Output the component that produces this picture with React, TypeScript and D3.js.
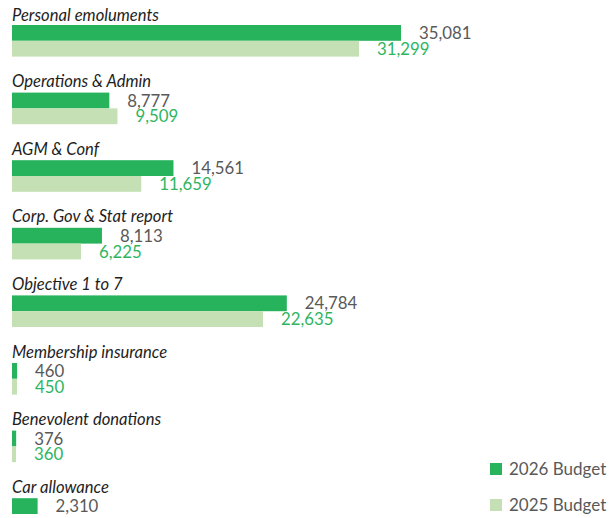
import React from "react";
import * as d3 from "d3";

const categories = [
  "Personal emoluments",
  "Operations & Admin",
  "AGM & Conf",
  "Corp. Gov & Stat report",
  "Objective 1 to 7",
  "Membership insurance",
  "Benevolent donations",
  "Car allowance",
];
const budget2026: (number | null)[] = [35081, 8777, 14561, 8113, 24784, 460, 376, 2310];
const budget2025: (number | null)[] = [31299, 9509, 11659, 6225, 22635, 450, 360, null];
const seriesNames = ["2026 Budget", "2025 Budget"];

const W = 609;
const H = 518;
const C2026 = "#27b35c";
const C2025 = "#c5e0b4";
const FONT = "Lato, 'Source Sans Pro', sans-serif";

export default function App() {
  const x = d3.scaleLinear().domain([0, 35081]).range([12, 401]);
  const y = d3
    .scaleBand<string>()
    .domain(categories)
    .range([25, 25 + 67.6 * categories.length])
    .paddingInner(0)
    .paddingOuter(0);
  const barH = 15.8;
  const fmt = d3.format(",");

  return (
    <svg
      width={W}
      height={H}
      style={{ position: "absolute", left: 0, top: 0, background: "#fff" }}
      fontFamily={FONT}
    >
      {categories.map((c, i) => {
        const top = y(c)!;
        const v1 = budget2026[i];
        const v2 = budget2025[i];
        const labelY = i === 0 ? top - 4 : top - 5.5;
        return (
          <g key={c}>
            <text x={12} y={labelY} fontSize={16.6} fontStyle="italic" fill="#1e1e1e">
              {c}
            </text>
            {v1 != null && (
              <>
                <rect x={x(0)} y={top} width={x(v1) - x(0)} height={barH} fill={C2026} />
                <text
                  x={x(v1) + 18}
                  y={top + barH / 2}
                  dy="0.36em"
                  fontSize={16.8}
                  fill="#595959"
                >
                  {fmt(v1)}
                </text>
              </>
            )}
            {v2 != null && (
              <>
                <rect x={x(0)} y={top + barH} width={x(v2) - x(0)} height={barH} fill={C2025} />
                <text
                  x={x(v2) + 18}
                  y={top + barH * 1.5}
                  dy="0.36em"
                  fontSize={16.8}
                  fill="#2fb55f"
                >
                  {fmt(v2)}
                </text>
              </>
            )}
          </g>
        );
      })}
      {seriesNames.map((s, i) => (
        <g key={s} transform={`translate(490, ${463 + i * 36})`}>
          <rect x={0} y={0} width={12} height={12} fill={i === 0 ? C2026 : C2025} />
          <text x={19} y={12} fontSize={17} fill="#595959">
            {s}
          </text>
        </g>
      ))}
    </svg>
  );
}
